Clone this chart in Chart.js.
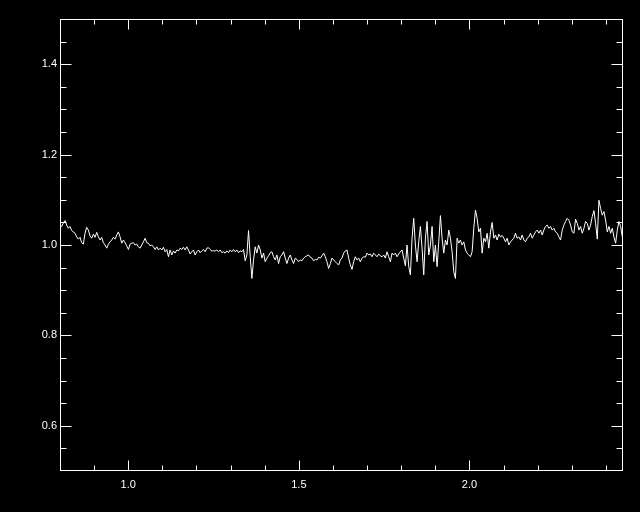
<!DOCTYPE html>
<html>
<head>
<meta charset="utf-8">
<script src="https://cdn.jsdelivr.net/npm/chart.js@4/dist/chart.umd.min.js"></script>
<style>
  html, body { margin: 0; padding: 0; background: #000; }
  #spectrum { display: block; }
</style>
</head>
<body>
<canvas id="spectrum" width="640" height="512"></canvas>
<script>
// wavelength grid (uniform sampling) and normalised flux
var waveStart = 0.8;
var waveStep = 0.00489;
var flux = [
  1.044,1.041,1.049,1.054,1.044,1.037,1.041,1.032,1.029,1.026,
  1.018,1.013,1.017,1.005,1.002,1.026,1.039,1.033,1.020,1.015,
  1.024,1.017,1.028,1.018,1.011,1.017,1.005,1.000,0.993,1.002,
  1.007,1.011,1.017,1.013,1.022,1.029,1.018,1.004,1.011,1.005,
  0.998,0.990,1.002,1.004,1.005,1.000,1.002,0.996,0.993,1.000,
  1.007,1.015,1.005,1.004,0.998,1.000,0.996,0.990,0.996,0.989,
  0.993,0.989,0.995,0.985,0.990,0.974,0.989,0.978,0.987,0.982,

  0.989,0.987,0.993,0.990,0.995,0.989,0.996,0.989,0.980,0.985,
  0.989,0.978,0.985,0.989,0.983,0.987,0.990,0.985,0.993,0.994,
  0.990,0.987,0.987,0.987,0.989,0.985,0.989,0.983,0.985,0.982,
  0.987,0.983,0.989,0.985,0.990,0.985,0.989,0.983,0.987,0.985,
  0.990,0.965,0.978,1.032,0.974,0.926,0.967,0.996,0.982,1.000,
  0.989,0.971,0.982,0.963,0.971,0.976,0.983,0.985,0.974,0.967,
  0.978,0.959,0.974,0.978,0.985,0.971,0.959,0.971,0.978,

  0.967,0.959,0.971,0.968,0.963,0.967,0.965,0.971,0.974,0.976,
  0.978,0.973,0.971,0.965,0.968,0.967,0.973,0.971,0.976,0.982,
  0.974,0.963,0.948,0.959,0.971,0.967,0.963,0.959,0.956,0.967,
  0.971,0.982,0.987,0.989,0.971,0.956,0.946,0.963,0.974,0.967,
  0.971,0.963,0.971,0.974,0.973,0.982,0.978,0.980,0.974,0.982,
  0.978,0.974,0.980,0.976,0.974,0.978,0.971,0.985,0.974,0.963,
  0.982,0.978,0.982,0.974,0.980,0.985,0.989,0.971,0.954,

  1.000,0.952,0.934,1.015,1.059,1.000,0.963,1.007,1.041,0.993,
  0.934,1.015,1.052,0.978,1.000,1.041,0.963,1.000,0.952,1.007,
  1.065,1.015,0.982,1.011,1.000,1.033,1.015,0.985,0.941,0.926,
  1.015,1.004,1.011,1.000,1.007,0.989,0.982,0.978,0.974,0.985,
  1.037,1.077,1.059,1.029,1.037,0.982,1.015,1.007,1.026,0.993,
  1.029,1.050,1.015,1.022,1.011,1.024,1.018,1.021,1.015,1.007,
  1.015,1.000,1.007,1.011,1.015,1.026,1.015,1.018,1.011,

  1.022,1.011,1.007,1.015,1.018,1.026,1.015,1.022,1.029,1.033,
  1.026,1.033,1.022,1.033,1.041,1.044,1.037,1.041,1.033,1.037,
  1.029,1.026,1.018,1.011,1.033,1.044,1.052,1.059,1.055,1.044,
  1.029,1.026,1.057,1.048,1.033,1.041,1.026,1.037,1.052,1.048,
  1.033,1.044,1.063,1.076,1.048,1.013,1.099,1.081,1.066,1.074,
  1.055,1.029,1.041,1.026,1.037,1.018,1.004,1.033,1.052,1.041,
  1.018
];
var xRange = [0.8, 2.45];
var yRange = [0.5, 1.5];
var xTickLabels = [1.0, 1.5, 2.0];
var yTickLabels = [0.6, 0.8, 1.0, 1.2, 1.4];

var points = flux.map(function(v, i) {
  return { x: waveStart + i * waveStep, y: v };
});

// IDL style frame: box on all four sides, ticks pointing inwards
var idlFrame = {
  id: 'idlFrame',
  afterDatasetsDraw: function(chart) {
    var ctx = chart.ctx;
    var a = chart.chartArea;
    var xs = chart.scales.x;
    var ys = chart.scales.y;
    var l = Math.round(a.left) + 0.5;
    var r = Math.round(a.right) - 0.5;
    var t = Math.round(a.top) + 0.5;
    var b = Math.round(a.bottom) - 0.5;
    ctx.save();
    ctx.strokeStyle = '#ffffff';
    ctx.lineWidth = 1;
    ctx.strokeRect(l, t, r - l, b - t);
    ctx.beginPath();
    for (var v = 9; v <= 24; v++) {
      var px = Math.round(xs.getPixelForValue(v / 10)) + 0.5;
      var len = (v % 5 === 0) ? 10 : 5;
      ctx.moveTo(px, b); ctx.lineTo(px, b - len);
      ctx.moveTo(px, t); ctx.lineTo(px, t + len);
    }
    for (var w = 11; w <= 29; w++) {
      var py = Math.round(ys.getPixelForValue(w / 20)) + 0.5;
      var len2 = (w % 4 === 0) ? 11 : 6;
      ctx.moveTo(l, py); ctx.lineTo(l + len2, py);
      ctx.moveTo(r, py); ctx.lineTo(r - len2, py);
    }
    ctx.stroke();
    ctx.restore();
  }
};

var tickFont = { family: 'Liberation Sans', size: 11 };

var chart = new Chart(document.getElementById('spectrum'), {
  type: 'line',
  data: {
    datasets: [{
      data: points,
      borderColor: '#ffffff',
      borderWidth: 1,
      pointRadius: 0,
      tension: 0,
      fill: false
    }]
  },
  options: {
    responsive: false,
    animation: false,
    layout: { padding: { top: 19, right: 17, left: 0, bottom: 0 } },
    plugins: { legend: { display: false }, tooltip: { enabled: false } },
    scales: {
      x: {
        type: 'linear',
        min: xRange[0],
        max: xRange[1],
        grid: { display: false, drawTicks: false },
        border: { display: false },
        afterBuildTicks: function(s) {
          s.ticks = xTickLabels.map(function(v) { return { value: v }; });
        },
        ticks: {
          padding: 7,
          color: '#ffffff',
          font: tickFont,
          maxRotation: 0,
          autoSkip: false,
          callback: function(v) { return Number(v).toFixed(1); }
        },
        afterFit: function(s) { s.height = 41; }
      },
      y: {
        type: 'linear',
        min: yRange[0],
        max: yRange[1],
        grid: { display: false, drawTicks: false },
        border: { display: false },
        afterBuildTicks: function(s) {
          s.ticks = yTickLabels.map(function(v) { return { value: v }; });
        },
        ticks: {
          padding: 3,
          color: '#ffffff',
          font: tickFont,
          autoSkip: false,
          callback: function(v) { return Number(v).toFixed(1); }
        },
        afterFit: function(s) { s.width = 60; }
      }
    }
  },
  plugins: [idlFrame]
});
</script>
</body>
</html>
